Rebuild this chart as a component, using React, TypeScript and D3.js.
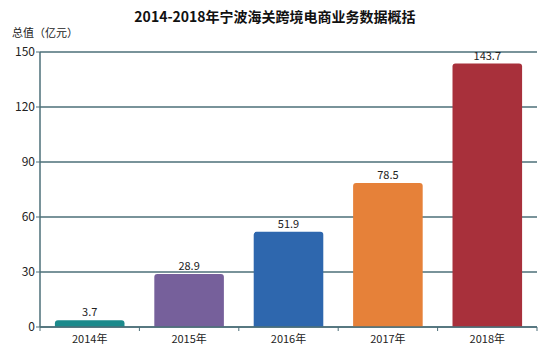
import React from 'react';
import * as d3 from 'd3';

const years = ['2014年', '2015年', '2016年', '2017年', '2018年'];
const values = [3.7, 28.9, 51.9, 78.5, 143.7];
const colors = ['#1b8a8c', '#76609b', '#2e67ae', '#e68139', '#a8303b'];
const yTicks = [0, 30, 60, 90, 120, 150];

const App = () => {
  const width = 550;
  const height = 354;
  const margins = {top: 52, right: 13, bottom: 27, left: 40};
  const innerWidth = width - margins.left - margins.right;
  const innerHeight = height - margins.top - margins.bottom;

  const xScale = d3.scaleBand().domain(years).range([0, innerWidth]).paddingInner(0.3).paddingOuter(0.15);
  const yScale = d3.scaleLinear().domain([0, 150]).range([innerHeight, 0]);

  const boundaries = d3.range(years.length + 1).map(i => i * (innerWidth / years.length));

  const axisColor = '#4c6f78';
  const font = '"Noto Sans CJK SC", "Noto Sans", sans-serif';

  // 只圆上面两个角
  const barPath = (x: number, y: number, w: number, h: number, r: number) =>
    `M${x},${y + h} V${y + r} Q${x},${y} ${x + r},${y} H${x + w - r} Q${x + w},${y} ${x + w},${y + r} V${y + h} Z`;

  return (
    <svg width={width} height={height} style={{position: 'absolute', left: 0, top: 0, background: '#fff'}}>
      <text x={275} y={22} textAnchor="middle" fontFamily={font} fontWeight="bold" fontSize={14} fill="#111">
        2014-2018年宁波海关跨境电商业务数据概括
      </text>
      <text x={12} y={37} fontFamily={font} fontSize={11} fill="#222">总值（亿元）</text>
      <g transform={`translate(${margins.left}, ${margins.top})`}>
        {yTicks.map(t => (
          <g key={t}>
            <line x1={0} x2={innerWidth} y1={yScale(t)} y2={yScale(t)} stroke={axisColor} strokeWidth={1.5}/>
            <line x1={-4} x2={0} y1={yScale(t)} y2={yScale(t)} stroke={axisColor} strokeWidth={1}/>
            <text x={-5} y={yScale(t)} dy="0.35em" textAnchor="end" fontFamily={font} fontSize={12} fill="#222">{t}</text>
          </g>
        ))}
        <line x1={0} x2={0} y1={0} y2={innerHeight} stroke={axisColor} strokeWidth={1.5}/>
        {boundaries.map((b, i) => (
          <line key={i} x1={b} x2={b} y1={innerHeight} y2={innerHeight + 4} stroke={axisColor} strokeWidth={1}/>
        ))}
        {years.map((yr, i) => {
          const x = xScale(yr) as number;
          const w = xScale.bandwidth();
          const y = yScale(values[i]);
          const h = innerHeight - y;
          return (
            <g key={yr}>
              <path d={barPath(x, y, w, h, Math.min(3, h / 2))} fill={colors[i]}/>
              <text x={x + w / 2} y={y - 4} textAnchor="middle" fontFamily={font} fontSize={11} fill="#222">{values[i]}</text>
              <text x={x + w / 2} y={innerHeight + 16} textAnchor="middle" fontFamily={font} fontSize={11} fill="#222">{yr}</text>
            </g>
          );
        })}
        <line x1={0} x2={innerWidth} y1={innerHeight} y2={innerHeight} stroke={axisColor} strokeWidth={1.5}/>
      </g>
    </svg>
  );
};

export default App;
